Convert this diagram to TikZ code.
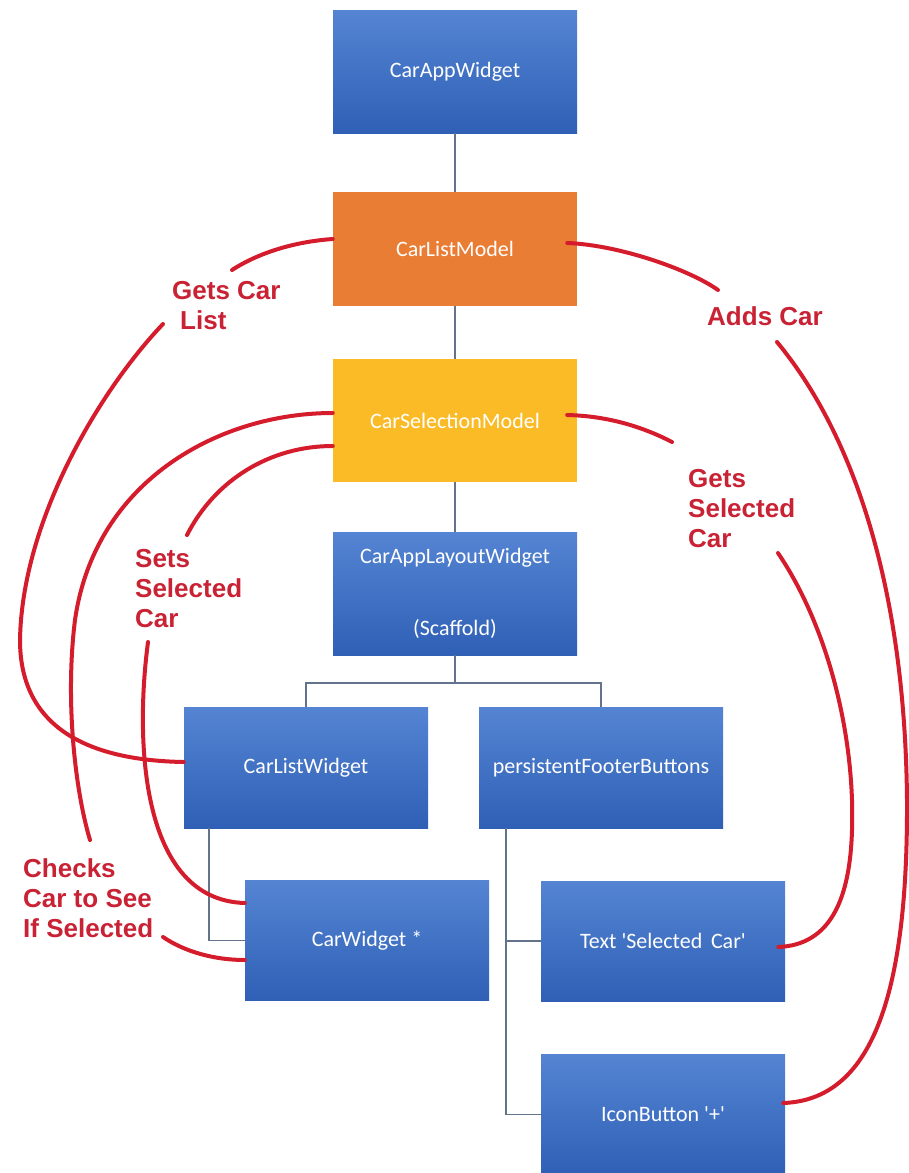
\documentclass[tikz,border=0pt]{standalone}
\usepackage{fontspec}
\newfontfamily\boxfont{Carlito}
\newfontfamily\labfont{Liberation Sans}
\definecolor{bluetop}{RGB}{84,132,210}
\definecolor{bluebot}{RGB}{48,96,182}
\definecolor{orangebox}{RGB}{234,125,52}
\definecolor{goldbox}{RGB}{250,187,38}
\definecolor{redline}{RGB}{212,28,44}
\definecolor{redtext}{RGB}{200,34,52}
\definecolor{treeline}{RGB}{100,115,140}
\begin{document}
\begin{tikzpicture}[x=1pt,y=-1pt,
  box/.style={minimum width=244pt, minimum height=121pt, inner sep=0pt, text=white,
    font=\boxfont\fontsize{22}{26}\selectfont, align=center},
  bluebox/.style={box, top color=bluetop, bottom color=bluebot},
  tree/.style={draw=treeline, line width=1.5pt},
  rel/.style={draw=redline, line width=4pt, line cap=round},
  lab/.style={anchor=north west, inner sep=0pt, text=redtext,
    font=\labfont\bfseries\fontsize{26}{30}\selectfont, align=left}]
\useasboundingbox (0,0) rectangle (909,1173);
\fill[white] (0,0) rectangle (909,1173);

% boxes
\node[bluebox, minimum height=123pt] (caw) at (455,71.5) {CarAppWidget};
\node[box, fill=orangebox, minimum height=114pt] (clm) at (455,249) {CarListModel};
\node[box, fill=goldbox, minimum height=123pt] (csm) at (455,420.5) {CarSelectionModel};
\node[bluebox, minimum height=123pt] (lay) at (455,593.5) {CarAppLayoutWidget\\[46pt](Scaffold)};
\node[bluebox] (clw) at (306,767.5) {CarListWidget};
\node[bluebox] (pfb) at (601,767.5) {persistentFooterButtons};
\node[bluebox, minimum height=120pt] (cw) at (367,940.5) {CarWidget *};
\node[bluebox, minimum height=120pt] (tsc) at (663,941) {Text \textquotesingle Selected\, Car\textquotesingle};
\node[bluebox] (icon) at (663,1114.5) {IconButton \textquotesingle+\textquotesingle};

% tree connectors
\coordinate (j) at (455,683);
\draw[tree] (caw) -- (clm);
\draw[tree] (clm) -- (csm);
\draw[tree] (csm) -- (lay);
\draw[tree] (lay.south) -- (j);
\draw[tree] (j) -| (clw.north);
\draw[tree] (j) -| (pfb.north);
\draw[tree] ([xshift=-97pt]clw.south) |- (cw.west);
\draw[tree] ([xshift=-95pt]pfb.south) |- (tsc.west);
\draw[tree] ([xshift=-95pt]pfb.south) |- (icon.west);

% gap coordinates
\coordinate (g1a) at (232,270); \coordinate (g1b) at (163,324);
\coordinate (g2a) at (90,840);  \coordinate (g2b) at (163,937);
\coordinate (g3a) at (187,535); \coordinate (g3b) at (148,642);
\coordinate (g4a) at (718,290); \coordinate (g4b) at (777,342);
\coordinate (g5a) at (672,442); \coordinate (g5b) at (778,553);

% Gets Car List
\draw[rel] ([yshift=10pt]clm.west) .. controls (290,242) and (255,255) .. (g1a);
\draw[rel] (g1b) .. controls (100,390) and (22,520) .. (20,640)
  .. controls (20,715) and (70,760) .. ([yshift=5.5pt]clw.west);
% Checks Car to See If Selected
\draw[rel] ([yshift=7.5pt]csm.west) .. controls (220,413) and (95,480) .. (75,620)
  .. controls (65,700) and (75,790) .. (g2a);
\draw[rel] (g2b) .. controls (185,952) and (215,960) .. ([yshift=-19.5pt]cw.west);
% Sets Selected Car
\draw[rel] ([yshift=-25.5pt]csm.west) .. controls (270,446) and (215,480) .. (g3a);
\draw[rel] (g3b) .. controls (135,740) and (140,900) .. ([yshift=37.5pt]cw.west);
% Adds Car
\draw[rel] ([xshift=-10pt,yshift=6pt]clm.east) .. controls (620,245) and (690,270) .. (g4a);
\draw[rel] (g4b) .. controls (850,430) and (905,580) .. (907,800)
  .. controls (908,1000) and (870,1100) .. ([xshift=-2pt,yshift=11.5pt]icon.east);
% Gets Selected Car
\draw[rel] ([xshift=-10pt,yshift=5.5pt]csm.east) .. controls (610,416) and (645,428) .. (g5a);
\draw[rel] (g5b) .. controls (830,630) and (855,740) .. (852,830)
  .. controls (850,900) and (830,945) .. ([xshift=-7pt,yshift=-6pt]tsc.east);

% labels
\node[lab] (lgcl) at (172,281) {Gets Car\\\hspace*{8pt}List};
\node[lab] (lac) at (707,306) {Adds Car};
\node[lab] (lgsc) at (688,469) {Gets\\Selected\\Car};
\node[lab] (lssc) at (135,549) {Sets\\Selected\\Car};
\node[lab] (lchk) at (23,858) {Checks\\Car to See\\If Selected};
\end{tikzpicture}
\end{document}
